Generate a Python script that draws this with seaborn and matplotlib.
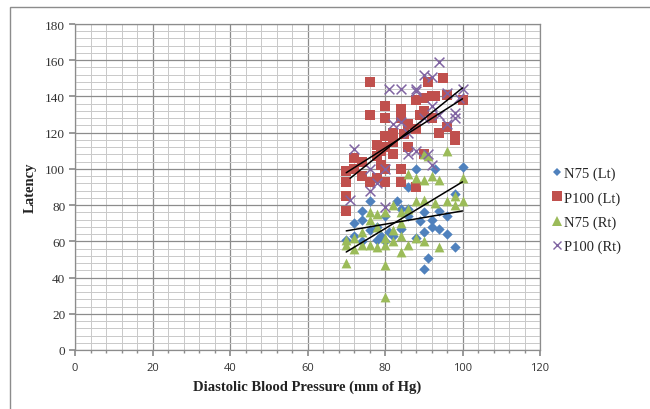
import matplotlib
matplotlib.use("Agg")
import matplotlib.pyplot as plt
from matplotlib.ticker import MultipleLocator
from matplotlib.lines import Line2D
from matplotlib.patches import Rectangle
import seaborn as sns
import pandas as pd

# ---- data ----
n75l_x = [70,72,72,74,74,74,76,76,78,78,79,80,80,81,82,83,84,84,86,86,86,88,88,89,90,90,90,91,92,92,93,94,94,96,96,98,98,100]
n75l_y = [61,70,63,77,72,60,82,66,68,61,63,74,60,65,63,82,67,78,90,78,74,100,62,71,65,76,45,51,72,68,100,77,67,64,74,57,86,101]

p100l_x = [70,70,70,70,72,72,74,74,76,76,76,78,78,78,79,79,80,80,80,80,80,80,82,82,82,84,84,84,84,85,86,86,88,88,88,89,90,90,90,91,92,92,93,94,95,96,96,98,98,100]
p100l_y = [99,93,85,77,106,100,104,96,148,130,93,113,107,95,110,102,135,128,118,112,100,93,120,115,108,133,128,100,93,119,125,112,138,122,90,130,139,132,108,148,140,128,140,120,150,141,123,118,116,138]

n75r_x = [70,70,70,72,72,74,74,76,76,76,78,78,78,80,80,80,80,80,82,82,82,84,84,84,84,86,86,86,88,88,88,90,90,90,90,91,92,93,94,94,96,96,98,98,100,100]
n75r_y = [48,58,61,56,62,65,58,58,72,76,57,68,75,29,47,58,62,76,60,66,80,54,63,70,76,58,78,97,62,82,95,60,83,94,108,107,96,81,57,94,110,82,85,80,95,82]

p100r_x = [71,72,76,76,78,80,80,81,82,84,84,86,86,88,88,88,90,90,91,92,92,92,94,94,96,96,98,98,99,100]
p100r_y = [83,111,100,88,92,100,79,144,125,144,126,120,108,144,143,110,152,128,108,151,135,102,159,130,142,125,131,128,139,144]

series_names = ["N75 (Lt)", "P100 (Lt)", "N75 (Rt)", "P100 (Rt)"]
x_ticks = [0, 20, 40, 60, 80, 100, 120]
y_ticks = [0, 20, 40, 60, 80, 100, 120, 140, 160, 180]
x_title = "Diastolic Blood Pressure (mm of Hg)"
y_title = "Latency"

# ---- styling ----
sns.set_theme(style="white")
plt.rcParams["font.family"] = ["Liberation Serif", "DejaVu Serif"]

colors = ["#4F81BD", "#C0504D", "#9BBB59", "#8064A2"]
markers = ["D", "s", "^", "x"]
sizes = [28, 48, 50, 50]

fig = plt.figure(figsize=(6.5, 4.1), dpi=100)
W, H = 650, 410
ax = fig.add_axes([75 / W, 1 - 351 / H, (540 - 75) / W, (351 - 25) / H])

data = [(n75l_x, n75l_y), (p100l_x, p100l_y), (n75r_x, n75r_y), (p100r_x, p100r_y)]
for (xs, ys), name, c, m, s in zip(data, series_names, colors, markers, sizes):
    df = pd.DataFrame({"x": xs, "y": ys})
    if m == "x":
        sns.scatterplot(data=df, x="x", y="y", ax=ax, marker=m, s=s, color=c,
                        linewidth=1.1, zorder=3, legend=False)
    else:
        sns.scatterplot(data=df, x="x", y="y", ax=ax, marker=m, s=s, color=c,
                        edgecolor=c, linewidth=0, zorder=3, legend=False)

for (xs, ys) in data:
    df = pd.DataFrame({"x": xs, "y": ys})
    sns.regplot(data=df, x="x", y="y", ax=ax, scatter=False, ci=None, truncate=True,
                line_kws={"color": "black", "lw": 1.1, "zorder": 4})

ax.set_xlim(0, 120)
ax.set_ylim(0, 180)
ax.xaxis.set_major_locator(MultipleLocator(20))
ax.yaxis.set_major_locator(MultipleLocator(20))
ax.xaxis.set_minor_locator(MultipleLocator(4))
ax.yaxis.set_minor_locator(MultipleLocator(4))
ax.set_xticks(x_ticks)
ax.set_yticks(y_ticks)
ax.grid(which="major", color="#8C8C8C", lw=0.9, zorder=1)
ax.grid(which="minor", color="#C9C9C9", lw=0.7, zorder=0.5)
ax.set_axisbelow(True)
for sp in ax.spines.values():
    sp.set_color("#8C8C8C")
    sp.set_linewidth(0.9)

ax.tick_params(axis="x", which="major", direction="out", length=4, color="#8C8C8C",
               labelsize=8, pad=5, bottom=True)
ax.tick_params(axis="x", which="minor", direction="out", length=2, color="#8C8C8C", bottom=True)
ax.tick_params(axis="y", which="major", direction="out", length=4, color="#8C8C8C",
               labelsize=9.5, pad=3, left=True)
ax.tick_params(axis="y", which="minor", length=0)
for lab in ax.get_xticklabels():
    lab.set_fontfamily(["Open Sans", "DejaVu Sans"])
    lab.set_color("#333333")
for lab in ax.get_yticklabels():
    lab.set_color("#333333")

ax.set_xlabel(x_title, fontsize=10.5, fontweight="bold", color="#222222", labelpad=4)
ax.set_ylabel(y_title, fontsize=10.5, fontweight="bold", color="#222222", labelpad=6)

handles = []
for name, c, m in zip(series_names, colors, markers):
    if m == "x":
        h = Line2D([], [], linestyle="none", marker=m, color=c, markersize=6, mew=1)
    else:
        ms = {"D": 4.5, "s": 6.5, "^": 6.5}[m]
        h = Line2D([], [], linestyle="none", marker=m, color=c, markersize=ms, mew=0)
    handles.append(h)
fig.legend(handles, series_names, loc="center left", bbox_to_anchor=(546 / W, 1 - 211 / H),
           frameon=False, fontsize=10.5, handlelength=0.7, handletextpad=0.15,
           labelspacing=0.75, borderaxespad=0)

fig.patches.append(Rectangle((10 / W, -0.1), 1.2, 1 - 8 / H + 0.1, transform=fig.transFigure,
                             fill=False, edgecolor="#8C8C8C", lw=1.0))

fig.savefig("out.png", dpi=100)
